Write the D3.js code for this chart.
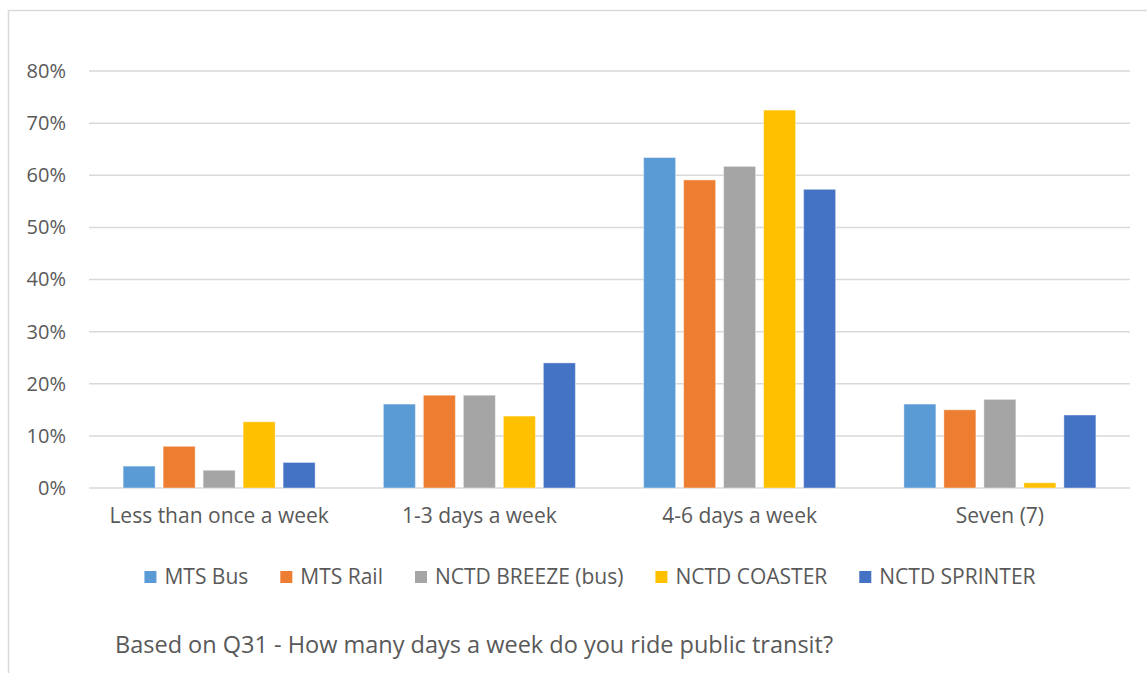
<!DOCTYPE html>
<html>
<head>
<meta charset="utf-8">
<script src="https://cdn.jsdelivr.net/npm/d3@7"></script>
<style>
  html, body { margin: 0; padding: 0; background: #fff; }
  svg text { font-family: "Open Sans", sans-serif; fill: #595959; }
</style>
</head>
<body>
<svg id="chart" width="1147" height="673"></svg>
<script>
const categories = ['Less than once a week', '1-3 days a week', '4-6 days a week', 'Seven (7)'];
const seriesNames = ['MTS Bus', 'MTS Rail', 'NCTD BREEZE (bus)', 'NCTD COASTER', 'NCTD SPRINTER'];
const mtsBus = [0.042, 0.161, 0.634, 0.161];
const mtsRail = [0.080, 0.178, 0.591, 0.150];
const breeze = [0.034, 0.178, 0.617, 0.170];
const coaster = [0.127, 0.138, 0.725, 0.010];
const sprinter = [0.049, 0.240, 0.573, 0.140];
const yTicks = [0, 0.1, 0.2, 0.3, 0.4, 0.5, 0.6, 0.7, 0.8];
const colors = ['#5B9BD5', '#ED7D31', '#A5A5A5', '#FFC000', '#4472C4'];
const caption = 'Based on Q31 - How many days a week do you ride public transit?';

const series = [mtsBus, mtsRail, breeze, coaster, sprinter];
const svg = d3.select('#chart');
const font = '"Open Sans", sans-serif';

// outer chart frame (runs off the right/bottom edge like the reference)
svg.append('rect')
  .attr('x', 8.5).attr('y', 10.5)
  .attr('width', 1160).attr('height', 700)
  .attr('fill', 'none').attr('stroke', '#d9d9d9').attr('stroke-width', 1.5);

const plotL = 89, plotR = 1130, plotT = 71, plotB = 488;

const y = d3.scaleLinear().domain([0, 0.8]).range([plotB, plotT]);
const x0 = d3.scaleBand().domain(categories).range([plotL, plotR]);
const groupW = 192;
const x1 = d3.scaleBand().domain(d3.range(series.length))
  .range([0, groupW]).paddingInner(0.2);

// gridlines
svg.append('g').selectAll('line').data(yTicks).join('line')
  .attr('x1', plotL).attr('x2', plotR)
  .attr('y1', d => y(d)).attr('y2', d => y(d))
  .attr('stroke', '#d9d9d9').attr('stroke-width', 1.5);

// y axis labels
const yAxis = svg.append('g').attr('transform', `translate(${plotL},0)`)
  .call(d3.axisLeft(y).tickValues(yTicks).tickFormat(d3.format('.0%')).tickSize(0).tickPadding(23));
yAxis.select('.domain').remove();
yAxis.selectAll('text').style('font-size', '20px').attr('fill', '#595959')
  .style('font-family', font);

// bars
const groups = svg.append('g').selectAll('g').data(categories).join('g')
  .attr('transform', c => `translate(${x0(c) + (x0.bandwidth() - groupW) / 2},0)`);
groups.selectAll('rect')
  .data((c, i) => series.map((s, k) => ({ k, v: s[i] })))
  .join('rect')
  .attr('x', d => x1(d.k))
  .attr('width', x1.bandwidth())
  .attr('y', d => y(d.v))
  .attr('height', d => y(0) - y(d.v))
  .attr('fill', d => colors[d.k])
  .attr('stroke', '#fff').attr('stroke-opacity', 0.4).attr('stroke-width', 1);

// x axis labels
const xAxis = svg.append('g').attr('transform', `translate(0,${plotB})`)
  .call(d3.axisBottom(x0).tickSize(0).tickPadding(20));
xAxis.select('.domain').remove();
xAxis.selectAll('text').style('font-size', '21px').attr('fill', '#595959')
  .style('font-family', font);

// legend, centred on the whole chart frame
const legend = svg.append('g');
const items = legend.selectAll('g').data(seriesNames).join('g');
items.append('rect').attr('width', 12).attr('height', 12).attr('y', -6)
  .attr('fill', (d, i) => colors[i]);
items.append('text').attr('x', 20).attr('dy', '0.35em')
  .style('font-size', '21px').text(d => d);
let off = 0;
items.each(function () {
  d3.select(this).attr('transform', `translate(${off},0)`);
  off += 20 + this.querySelector('text').getComputedTextLength() + 32;
});
off -= 32;
legend.attr('transform', `translate(${590 - off / 2},577)`);

// caption
svg.append('text').attr('x', 115).attr('y', 653)
  .style('font-size', '23.5px').text(caption);
</script>
</body>
</html>
